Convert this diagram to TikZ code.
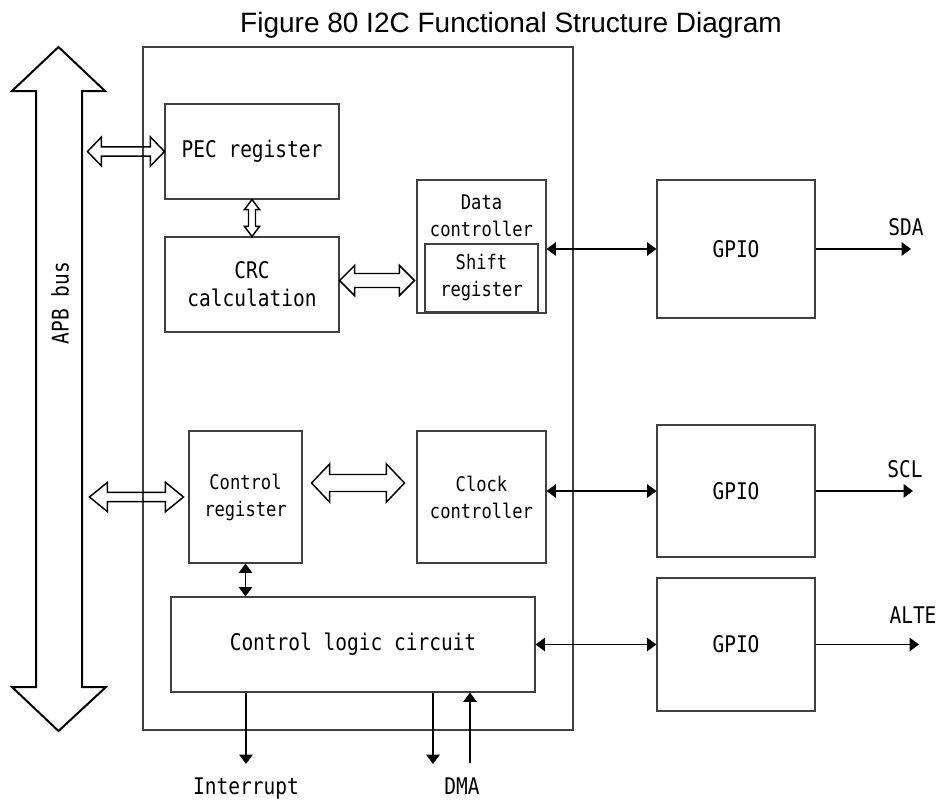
\documentclass[tikz,border=0pt]{standalone}
\usepackage{fontspec}
\usetikzlibrary{arrows.meta,calc}
\newfontfamily\titlefont{Liberation Sans}
\newfontfamily\blockfont{DejaVu Sans Mono}[FakeStretch=0.85]
\newcommand{\blkbig}{\blockfont\fontsize{17.2}{21}\selectfont}
\newcommand{\blksmall}{\blockfont\fontsize{15.1}{20.25}\selectfont}
% hollow double arrow, sizes in px: head length, head half width, shaft half width
\newcommand{\hollowH}[5]{%
  \draw[hollow] let \p1=(#1), \p2=(#2) in
    (\x1,\y1) -- (\x1+#3*0.75pt,\y1+#4*0.75pt) -- (\x1+#3*0.75pt,\y1+#5*0.75pt)
    -- (\x2-#3*0.75pt,\y1+#5*0.75pt) -- (\x2-#3*0.75pt,\y1+#4*0.75pt) -- (\x2,\y1)
    -- (\x2-#3*0.75pt,\y1-#4*0.75pt) -- (\x2-#3*0.75pt,\y1-#5*0.75pt)
    -- (\x1+#3*0.75pt,\y1-#5*0.75pt) -- (\x1+#3*0.75pt,\y1-#4*0.75pt) -- cycle;}
\newcommand{\hollowV}[5]{%
  \draw[hollow] let \p1=(#1), \p2=(#2) in
    (\x1,\y1) -- (\x1+#4*0.75pt,\y1-#3*0.75pt) -- (\x1+#5*0.75pt,\y1-#3*0.75pt)
    -- (\x1+#5*0.75pt,\y2+#3*0.75pt) -- (\x1+#4*0.75pt,\y2+#3*0.75pt) -- (\x1,\y2)
    -- (\x1-#4*0.75pt,\y2+#3*0.75pt) -- (\x1-#5*0.75pt,\y2+#3*0.75pt)
    -- (\x1-#5*0.75pt,\y1-#3*0.75pt) -- (\x1-#4*0.75pt,\y1-#3*0.75pt) -- cycle;}
\begin{document}
\begin{tikzpicture}[x=0.75pt,y=-0.75pt,>={Triangle[length=7pt,width=10pt]},
  block/.style={draw=black!75,line width=0.8pt,inner sep=0pt},
  bsize/.style 2 args={minimum width=#1*0.75pt,minimum height=#2*0.75pt},
  sig/.style={line width=1.1pt},
  hollow/.style={draw=black,line width=1.1pt,line join=miter}]
\useasboundingbox (0,0) rectangle (938,799);

\node[font=\titlefont\fontsize{21}{25}\selectfont,anchor=base] (title) at (511,33) {Figure 80 I2C Functional Structure Diagram};

% APB bus
\draw[line width=1.5pt] (58.5,47) -- (105,91) -- (82,91) -- (82,687) -- (106,687) -- (58.5,731)
  -- (12,687) -- (36,687) -- (36,91) -- (12,91) -- cycle;
\node[rotate=90,font=\blkbig] (apb) at (60,303) {APB bus};

% I2C blocks
\node[block,bsize={430}{683}] (chip) at (358,388.5) {};
\node[block,bsize={174}{95},font=\blkbig] (pec) at (252,151.5) {PEC register};
\node[block,bsize={174}{95},font=\blkbig,align=center] (crc) at (252,284.5) {CRC\\calculation};
\node[block,bsize={129}{133}] (data) at (481.5,246.5) {};
\node[font=\blksmall,align=center,inner sep=0pt] (datatxt) at (481.5,216) {Data\\controller};
\node[block,bsize={113}{68},font=\blksmall,align=center] (shift) at (481.5,278) {Shift\\register};
\node[block,bsize={113}{132},font=\blksmall,align=center] (ctrl) at (245.5,497) {Control\\register};
\node[block,bsize={129}{132},font=\blksmall,align=center] (clock) at (481.5,497) {Clock\\controller};
\node[block,bsize={364}{95},font=\blkbig] (logic) at (353,644.5) {Control logic circuit};

% GPIO
\node[block,bsize={158}{138},font=\blkbig] (gpioa) at (736,249) {GPIO};
\node[block,bsize={158}{132},font=\blkbig] (gpiob) at (736,491) {GPIO};
\node[block,bsize={158}{133},font=\blkbig] (gpioc) at (736,644.5) {GPIO};

% pins
\coordinate (sda) at (911,249);
\coordinate (scl) at (913,491);
\coordinate (alte) at (919,644.5);
\coordinate (intr) at (246,764);
\coordinate (dmaout) at (433,764);
\coordinate (dmain) at (470,763);
\node[font=\blkbig,anchor=base] (sdatxt) at (906,235) {SDA};
\node[font=\blkbig,anchor=base] (scltxt) at (905,477) {SCL};
\node[font=\blkbig,anchor=base] (altetxt) at (913,623) {ALTE};
\node[font=\blkbig,anchor=base] (inttxt) at (246,794) {Interrupt};
\node[font=\blkbig,anchor=base] (dmatxt) at (462,794) {DMA};

% wide arrows
\coordinate (pecbus) at ($(pec.west)+(-77,0)$);
\coordinate (crcr) at ($(crc.east)+(0,-4)$);
\coordinate (datal) at ($(crcr -| data.west)+(-2,0)$);
\coordinate (ctrlbus) at ($(ctrl.west)+(-99,0)$);
\coordinate (ctrll) at ($(ctrl.west)+(-5,0)$);
\coordinate (ctrlr) at ($(ctrl.east)+(9,-14)$);
\coordinate (clockl) at ($(clock.west)+(-12,-14)$);
\hollowH{pecbus}{pec.west}{14}{14.5}{4.7}
\hollowV{pec.south}{crc.north}{10}{7.5}{3.5}
\hollowH{crcr}{datal}{15}{15}{7}
\hollowH{ctrlbus}{ctrll}{18}{14.7}{4.7}
\hollowH{ctrlr}{clockl}{18}{19}{8.5}

% signal arrows
\draw[sig,<->] (data.east |- gpioa.west) -- (gpioa.west);
\draw[sig,<->] (clock.east |- gpiob.west) -- (gpiob.west);
\draw[sig,<->] (logic.east |- gpioc.west) -- (gpioc.west);
\draw[sig,->] (gpioa.east) -- (sda);
\draw[sig,->] (gpiob.east) -- (scl);
\draw[sig,->] (gpioc.east) -- (alte);
\draw[sig,<->] (ctrl.south) -- (logic.north -| ctrl.south);
\draw[sig,->] (logic.south -| intr) -- (intr);
\draw[sig,->] (logic.south -| dmaout) -- (dmaout);
\draw[sig,->] (dmain) -- (logic.south -| dmain);
\end{tikzpicture}
\end{document}
